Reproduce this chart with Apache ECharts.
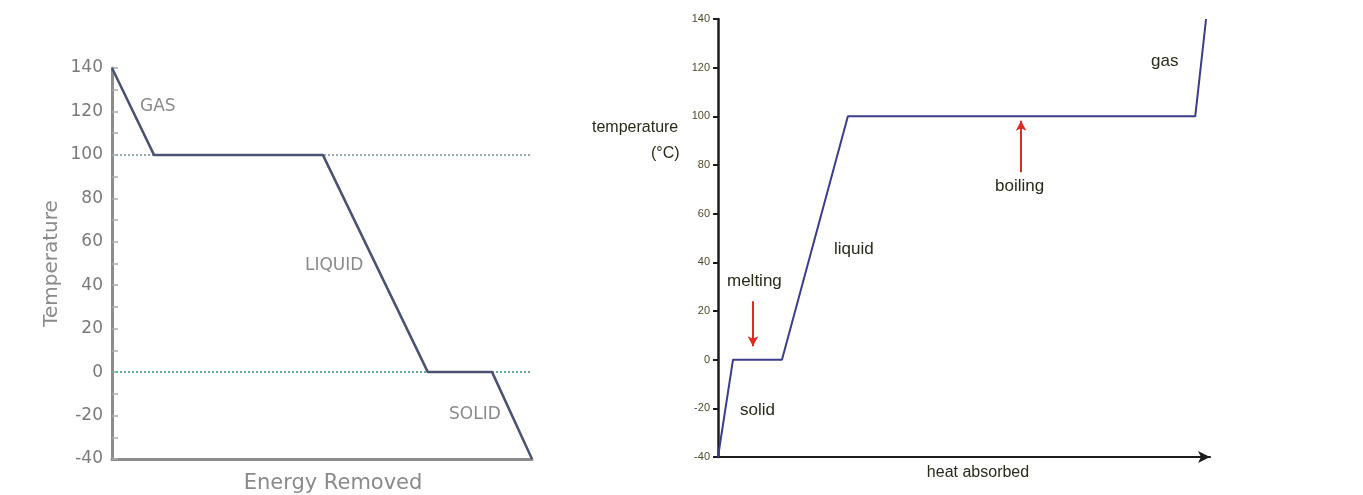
<!DOCTYPE html>
<html><head><meta charset="utf-8">
<script src="https://cdn.jsdelivr.net/npm/echarts@6/dist/echarts.min.js"></script>
<style>html,body{margin:0;padding:0;background:#fff}#c{width:1363px;height:495px}</style>
</head><body><div id="c"></div>
<script>
// Left chart: cooling curve (energy removed)
const coolX = [0, 10, 50.2, 75.2, 90.5, 100];
const coolT = [140, 100, 100, 0, 0, -40];
// Right chart: heating curve (heat absorbed)
const heatX = [0, 3.05, 13.0, 26.4, 97.0, 99.2];
const heatT = [-40, 0, 0, 100, 100, 140];
const yTicks = [-40, -20, 0, 20, 40, 60, 80, 100, 120, 140];
const phaseLines = [100, 0];
const meltArrow = [[7.1, 24], [7.1, 5.5]];
const boilArrow = [[61.6, 77], [61.6, 98.2]];

const chart = echarts.init(document.getElementById('c'), null, {renderer: 'canvas'});
const greyFont = 'DejaVu Sans';
const arial = 'Liberation Sans';
chart.setOption({
  animation: false,
  grid: [
    {left: 112, top: 68, width: 420, height: 391, containLabel: false, outerBoundsMode: 'none'},
    {left: 718, top: 19, width: 492, height: 438, containLabel: false, outerBoundsMode: 'none'}
  ],
  xAxis: [
    {gridIndex: 0, type: 'value', min: 0, max: 100,
     axisLine: {onZero: false, lineStyle: {color: '#8c8c8c', width: 3}},
     axisTick: {show: false}, axisLabel: {show: false}, splitLine: {show: false},
     name: 'Energy Removed', nameLocation: 'middle', nameGap: 14,
     nameTextStyle: {color: '#8a8a8a', fontSize: 21, fontFamily: greyFont, padding: [0, 0, 0, 22]}},
    {gridIndex: 1, type: 'value', min: 0, max: 100,
     axisLine: {onZero: false, symbol: ['none', 'arrow'], symbolSize: [9, 12], lineStyle: {color: '#1c1c1c', width: 2}},
     axisTick: {show: false}, axisLabel: {show: false}, splitLine: {show: false},
     name: 'heat absorbed', nameLocation: 'middle', nameGap: 8,
     nameTextStyle: {color: '#2a2a1a', fontSize: 16, fontFamily: arial, padding: [0, 0, 0, 28]}}
  ],
  yAxis: [
    {gridIndex: 0, type: 'value', min: yTicks[0], max: yTicks[yTicks.length - 1], interval: 20,
     axisLine: {show: true, onZero: false, lineStyle: {color: '#8c8c8c', width: 3}},
     axisTick: {show: true, inside: true, length: 6, lineStyle: {color: '#aaa', width: 1.5}},
     minorTick: {show: true, splitNumber: 2, length: 6, lineStyle: {color: '#aaa', width: 1.5}},
     axisLabel: {color: '#7a7a7a', fontSize: 17, fontFamily: greyFont, margin: 9},
     splitLine: {show: false},
     name: 'Temperature', nameLocation: 'middle', nameGap: 50, nameRotate: 90,
     nameTextStyle: {color: '#8a8a8a', fontSize: 20, fontFamily: greyFont}},
    {gridIndex: 1, type: 'value', min: yTicks[0], max: yTicks[yTicks.length - 1], interval: 20,
     axisLine: {show: true, onZero: false, lineStyle: {color: '#1c1c1c', width: 2.5}},
     axisTick: {show: true, length: 5, lineStyle: {color: '#1c1c1c', width: 2}},
     axisLabel: {color: '#4f4b2c', fontSize: 11, fontFamily: arial, margin: 8},
     splitLine: {show: false}}
  ],
  series: [
    {type: 'line', xAxisIndex: 0, yAxisIndex: 0, symbol: 'none',
     data: coolX.map((x, i) => [x, coolT[i]]),
     lineStyle: {color: '#4b5170', width: 2.5}, z: 3,
     markLine: {silent: true, symbol: 'none', label: {show: false},
       data: phaseLines.map((v, i) => ({yAxis: v, lineStyle: {color: i === 0 ? '#9aa8b0' : '#6aa89a', type: [2, 2], width: 2}})),
       z: 1}},
    {type: 'line', xAxisIndex: 1, yAxisIndex: 1, symbol: 'none',
     data: heatX.map((x, i) => [x, heatT[i]]),
     lineStyle: {color: '#3b3d8c', width: 2}, z: 3,
     markLine: {silent: true, symbol: ['none', 'arrow'], symbolSize: [8, 10], label: {show: false},
       lineStyle: {color: '#e02a1f', width: 2, type: 'solid'},
       data: [
         [{coord: meltArrow[0]}, {coord: meltArrow[1]}],
         [{coord: boilArrow[0]}, {coord: boilArrow[1]}]
       ]}}
  ],
  graphic: [
    {type: 'text', left: 140, top: 98, style: {text: 'GAS', fill: '#8a8a8a', font: '17px "DejaVu Sans"'}},
    {type: 'text', left: 305, top: 257, style: {text: 'LIQUID', fill: '#8a8a8a', font: '17px "DejaVu Sans"'}},
    {type: 'text', left: 449, top: 406, style: {text: 'SOLID', fill: '#8a8a8a', font: '17px "DejaVu Sans"'}},
    {type: 'text', left: 592, top: 120, style: {text: 'temperature', fill: '#2a2a1a', font: '16px "Liberation Sans"'}},
    {type: 'text', left: 651, top: 146, style: {text: '(°C)', fill: '#2a2a1a', font: '16px "Liberation Sans"'}},
    {type: 'text', left: 727, top: 273, style: {text: 'melting', fill: '#2a2a1a', font: '17px "Liberation Sans"'}},
    {type: 'text', left: 740, top: 402, style: {text: 'solid', fill: '#2a2a1a', font: '17px "Liberation Sans"'}},
    {type: 'text', left: 834, top: 241, style: {text: 'liquid', fill: '#2a2a1a', font: '17px "Liberation Sans"'}},
    {type: 'text', left: 995, top: 178, style: {text: 'boiling', fill: '#2a2a1a', font: '17px "Liberation Sans"'}},
    {type: 'text', left: 1151, top: 53, style: {text: 'gas', fill: '#2a2a1a', font: '17px "Liberation Sans"'}}
  ]
});
</script></body></html>
